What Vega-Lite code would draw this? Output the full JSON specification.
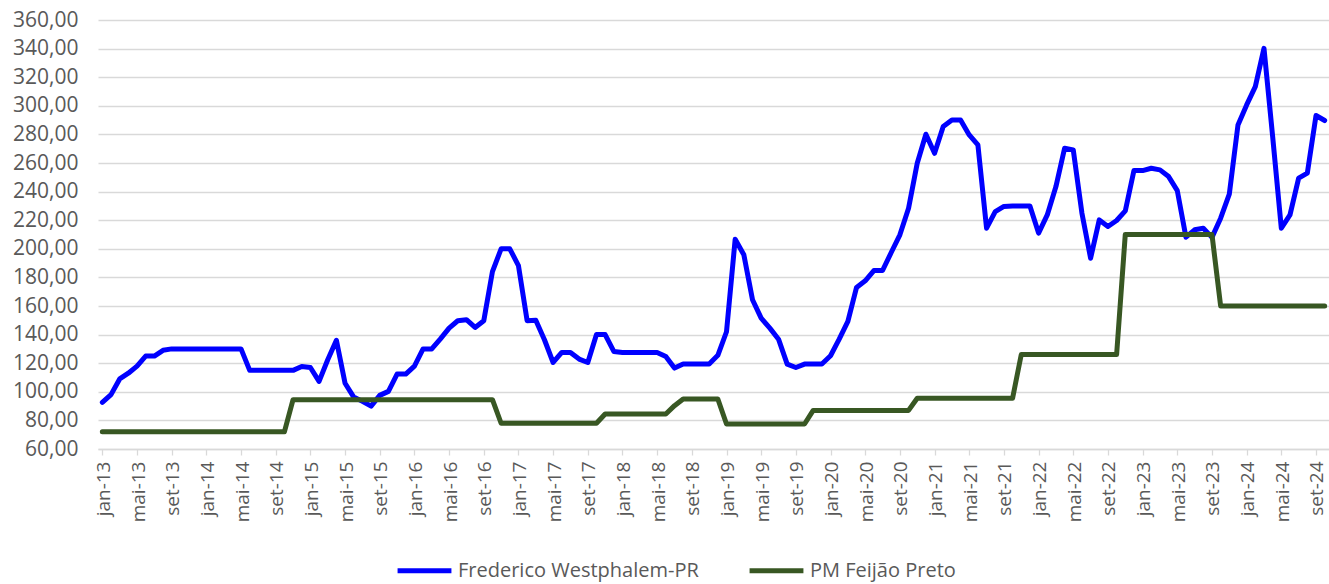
{
  "$schema": "https://vega.github.io/schema/vega-lite/v6.json",
  "width": 1231,
  "height": 429,
  "autosize": {"type": "none"},
  "padding": {"left": 98, "top": 20, "right": 0, "bottom": 135},
  "background": "white",
  "config": {"view": {"stroke": null}, "font": "Open Sans"},
  "data": {"values": [
    {"mes": "jan-13", "fw": 92.6, "pm": 72},
    {"mes": "fev-13", "fw": 98, "pm": 72},
    {"mes": "mar-13", "fw": 109, "pm": 72},
    {"mes": "abr-13", "fw": 113, "pm": 72},
    {"mes": "mai-13", "fw": 118, "pm": 72},
    {"mes": "jun-13", "fw": 125, "pm": 72},
    {"mes": "jul-13", "fw": 125, "pm": 72},
    {"mes": "ago-13", "fw": 129, "pm": 72},
    {"mes": "set-13", "fw": 130, "pm": 72},
    {"mes": "out-13", "fw": 130, "pm": 72},
    {"mes": "nov-13", "fw": 130, "pm": 72},
    {"mes": "dez-13", "fw": 130, "pm": 72},
    {"mes": "jan-14", "fw": 130, "pm": 72},
    {"mes": "fev-14", "fw": 130, "pm": 72},
    {"mes": "mar-14", "fw": 130, "pm": 72},
    {"mes": "abr-14", "fw": 130, "pm": 72},
    {"mes": "mai-14", "fw": 130, "pm": 72},
    {"mes": "jun-14", "fw": 115, "pm": 72},
    {"mes": "jul-14", "fw": 115, "pm": 72},
    {"mes": "ago-14", "fw": 115, "pm": 72},
    {"mes": "set-14", "fw": 115, "pm": 72},
    {"mes": "out-14", "fw": 115, "pm": 72},
    {"mes": "nov-14", "fw": 115, "pm": 94.5},
    {"mes": "dez-14", "fw": 117.7, "pm": 94.5},
    {"mes": "jan-15", "fw": 117, "pm": 94.5},
    {"mes": "fev-15", "fw": 107.3, "pm": 94.5},
    {"mes": "mar-15", "fw": 122.4, "pm": 94.5},
    {"mes": "abr-15", "fw": 136, "pm": 94.5},
    {"mes": "mai-15", "fw": 106, "pm": 94.5},
    {"mes": "jun-15", "fw": 96.3, "pm": 94.5},
    {"mes": "jul-15", "fw": 93.3, "pm": 94.5},
    {"mes": "ago-15", "fw": 90, "pm": 94.5},
    {"mes": "set-15", "fw": 97.5, "pm": 94.5},
    {"mes": "out-15", "fw": 100.3, "pm": 94.5},
    {"mes": "nov-15", "fw": 112.4, "pm": 94.5},
    {"mes": "dez-15", "fw": 112.4, "pm": 94.5},
    {"mes": "jan-16", "fw": 118, "pm": 94.5},
    {"mes": "fev-16", "fw": 130, "pm": 94.5},
    {"mes": "mar-16", "fw": 130, "pm": 94.5},
    {"mes": "abr-16", "fw": 137, "pm": 94.5},
    {"mes": "mai-16", "fw": 144.5, "pm": 94.5},
    {"mes": "jun-16", "fw": 149.7, "pm": 94.5},
    {"mes": "jul-16", "fw": 150.4, "pm": 94.5},
    {"mes": "ago-16", "fw": 145, "pm": 94.5},
    {"mes": "set-16", "fw": 149.7, "pm": 94.5},
    {"mes": "out-16", "fw": 184, "pm": 94.5},
    {"mes": "nov-16", "fw": 200, "pm": 78},
    {"mes": "dez-16", "fw": 200, "pm": 78},
    {"mes": "jan-17", "fw": 188.3, "pm": 78},
    {"mes": "fev-17", "fw": 149.7, "pm": 78},
    {"mes": "mar-17", "fw": 150, "pm": 78},
    {"mes": "abr-17", "fw": 136.4, "pm": 78},
    {"mes": "mai-17", "fw": 120.5, "pm": 78},
    {"mes": "jun-17", "fw": 127.5, "pm": 78},
    {"mes": "jul-17", "fw": 127.5, "pm": 78},
    {"mes": "ago-17", "fw": 122.9, "pm": 78},
    {"mes": "set-17", "fw": 120.5, "pm": 78},
    {"mes": "out-17", "fw": 140, "pm": 78},
    {"mes": "nov-17", "fw": 140, "pm": 84.5},
    {"mes": "dez-17", "fw": 128.2, "pm": 84.5},
    {"mes": "jan-18", "fw": 127.5, "pm": 84.5},
    {"mes": "fev-18", "fw": 127.5, "pm": 84.5},
    {"mes": "mar-18", "fw": 127.5, "pm": 84.5},
    {"mes": "abr-18", "fw": 127.5, "pm": 84.5},
    {"mes": "mai-18", "fw": 127.5, "pm": 84.5},
    {"mes": "jun-18", "fw": 124.7, "pm": 84.5},
    {"mes": "jul-18", "fw": 116.6, "pm": 90.3},
    {"mes": "ago-18", "fw": 119.5, "pm": 95},
    {"mes": "set-18", "fw": 119.5, "pm": 95},
    {"mes": "out-18", "fw": 119.5, "pm": 95},
    {"mes": "nov-18", "fw": 119.5, "pm": 95},
    {"mes": "dez-18", "fw": 125.5, "pm": 95},
    {"mes": "jan-19", "fw": 142, "pm": 77.5},
    {"mes": "fev-19", "fw": 206.7, "pm": 77.5},
    {"mes": "mar-19", "fw": 195.8, "pm": 77.5},
    {"mes": "abr-19", "fw": 164.4, "pm": 77.5},
    {"mes": "mai-19", "fw": 151.5, "pm": 77.5},
    {"mes": "jun-19", "fw": 144.5, "pm": 77.5},
    {"mes": "jul-19", "fw": 136.8, "pm": 77.5},
    {"mes": "ago-19", "fw": 119.4, "pm": 77.5},
    {"mes": "set-19", "fw": 117, "pm": 77.5},
    {"mes": "out-19", "fw": 119.4, "pm": 77.5},
    {"mes": "nov-19", "fw": 119.4, "pm": 87},
    {"mes": "dez-19", "fw": 119.4, "pm": 87},
    {"mes": "jan-20", "fw": 125.2, "pm": 87},
    {"mes": "fev-20", "fw": 136.8, "pm": 87},
    {"mes": "mar-20", "fw": 149.2, "pm": 87},
    {"mes": "abr-20", "fw": 173, "pm": 87},
    {"mes": "mai-20", "fw": 177.6, "pm": 87},
    {"mes": "jun-20", "fw": 184.8, "pm": 87},
    {"mes": "jul-20", "fw": 184.8, "pm": 87},
    {"mes": "ago-20", "fw": 197.4, "pm": 87},
    {"mes": "set-20", "fw": 209.8, "pm": 87},
    {"mes": "out-20", "fw": 228.4, "pm": 87},
    {"mes": "nov-20", "fw": 259.8, "pm": 95.5},
    {"mes": "dez-20", "fw": 280.1, "pm": 95.5},
    {"mes": "jan-21", "fw": 266.8, "pm": 95.5},
    {"mes": "fev-21", "fw": 285.5, "pm": 95.5},
    {"mes": "mar-21", "fw": 290, "pm": 95.5},
    {"mes": "abr-21", "fw": 290, "pm": 95.5},
    {"mes": "mai-21", "fw": 279.6, "pm": 95.5},
    {"mes": "jun-21", "fw": 272.6, "pm": 95.5},
    {"mes": "jul-21", "fw": 214.4, "pm": 95.5},
    {"mes": "ago-21", "fw": 226, "pm": 95.5},
    {"mes": "set-21", "fw": 229.6, "pm": 95.5},
    {"mes": "out-21", "fw": 230, "pm": 95.5},
    {"mes": "nov-21", "fw": 230, "pm": 126},
    {"mes": "dez-21", "fw": 230, "pm": 126},
    {"mes": "jan-22", "fw": 211, "pm": 126},
    {"mes": "fev-22", "fw": 223.7, "pm": 126},
    {"mes": "mar-22", "fw": 243.5, "pm": 126},
    {"mes": "abr-22", "fw": 270.3, "pm": 126},
    {"mes": "mai-22", "fw": 269.2, "pm": 126},
    {"mes": "jun-22", "fw": 224.9, "pm": 126},
    {"mes": "jul-22", "fw": 193.4, "pm": 126},
    {"mes": "ago-22", "fw": 220.2, "pm": 126},
    {"mes": "set-22", "fw": 215.6, "pm": 126},
    {"mes": "out-22", "fw": 219.8, "pm": 126},
    {"mes": "nov-22", "fw": 226.5, "pm": 210},
    {"mes": "dez-22", "fw": 254.7, "pm": 210},
    {"mes": "jan-23", "fw": 254.7, "pm": 210},
    {"mes": "fev-23", "fw": 256.3, "pm": 210},
    {"mes": "mar-23", "fw": 255.2, "pm": 210},
    {"mes": "abr-23", "fw": 250.5, "pm": 210},
    {"mes": "mai-23", "fw": 240.7, "pm": 210},
    {"mes": "jun-23", "fw": 208.1, "pm": 210},
    {"mes": "jul-23", "fw": 213.3, "pm": 210},
    {"mes": "ago-23", "fw": 214.4, "pm": 210},
    {"mes": "set-23", "fw": 208, "pm": 210},
    {"mes": "out-23", "fw": 221.4, "pm": 160},
    {"mes": "nov-23", "fw": 238.2, "pm": 160},
    {"mes": "dez-23", "fw": 286.6, "pm": 160},
    {"mes": "jan-24", "fw": 300.6, "pm": 160},
    {"mes": "fev-24", "fw": 313.4, "pm": 160},
    {"mes": "mar-24", "fw": 340.2, "pm": 160},
    {"mes": "abr-24", "fw": 278.5, "pm": 160},
    {"mes": "mai-24", "fw": 214.4, "pm": 160},
    {"mes": "jun-24", "fw": 223.7, "pm": 160},
    {"mes": "jul-24", "fw": 249.4, "pm": 160},
    {"mes": "ago-24", "fw": 252.9, "pm": 160},
    {"mes": "set-24", "fw": 293.2, "pm": 160},
    {"mes": "out-24", "fw": 289.7, "pm": 160}
  ]},
  "transform": [{"fold": ["fw", "pm"], "as": ["serie", "valor"]}],
  "mark": {"type": "line", "strokeWidth": 5, "strokeJoin": "round", "strokeCap": "round"},
  "encoding": {
    "x": {
      "field": "mes", "type": "ordinal", "sort": null,
      "scale": {"paddingInner": 0, "paddingOuter": 0},
      "axis": {
        "title": null,
        "values": ["jan-13","mai-13","set-13","jan-14","mai-14","set-14","jan-15","mai-15","set-15","jan-16","mai-16","set-16","jan-17","mai-17","set-17","jan-18","mai-18","set-18","jan-19","mai-19","set-19","jan-20","mai-20","set-20","jan-21","mai-21","set-21","jan-22","mai-22","set-22","jan-23","mai-23","set-23","jan-24","mai-24","set-24"],
        "bandPosition": 0,
        "labelOffset": 1,
        "labelAngle": -90,
        "labelFontSize": 19,
        "labelColor": "#595959",
        "labelPadding": 6,
        "tickColor": "#D9D9D9",
        "tickSize": 6,
        "tickWidth": 1.3,
        "domainColor": "#D9D9D9",
        "domainWidth": 1.3,
        "grid": false
      }
    },
    "y": {
      "field": "valor", "type": "quantitative",
      "scale": {"domain": [60, 360], "nice": false, "zero": false},
      "axis": {
        "title": null,
        "values": [60,80,100,120,140,160,180,200,220,240,260,280,300,320,340,360],
        "labelExpr": "replace(format(datum.value, '.2f'), '.', ',')",
        "labelFontSize": 21,
        "labelColor": "#595959",
        "labelPadding": 20,
        "domain": false,
        "ticks": false,
        "gridColor": "#D9D9D9",
        "gridWidth": 1.3
      }
    },
    "color": {
      "field": "serie", "type": "nominal",
      "scale": {"domain": ["fw", "pm"], "range": ["#0000FF", "#385723"]},
      "legend": {
        "title": null,
        "orient": "none",
        "direction": "horizontal",
        "legendX": 297,
        "legendY": 521,
        "symbolType": "stroke",
        "symbolStrokeWidth": 5,
        "symbolSize": 2900,
        "labelFontSize": 20,
        "labelLimit": 0,
        "labelColor": "#595959",
        "labelOffset": 4,
        "columnPadding": 40,
        "labelExpr": "datum.label == 'fw' ? 'Frederico Westphalem-PR' : 'PM Feijão Preto'"
      }
    }
  }
}
